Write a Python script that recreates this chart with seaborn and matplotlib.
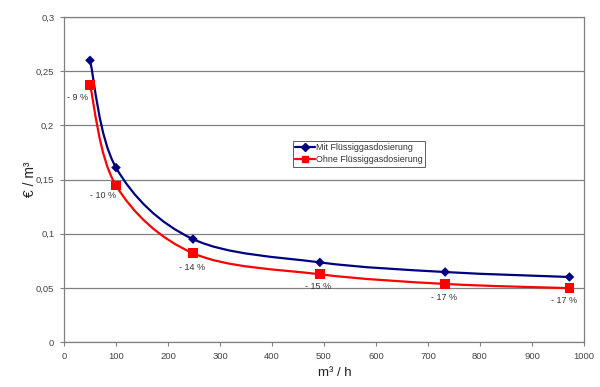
import numpy as np
import pandas as pd
import matplotlib.pyplot as plt
import seaborn as sns
from matplotlib.path import Path
from matplotlib.patches import PathPatch
from matplotlib.lines import Line2D

# data
flow = [50, 100, 248, 492, 733, 972]
cost_mit = [0.260, 0.161, 0.095, 0.0735, 0.0646, 0.060]
cost_ohne = [0.237, 0.1445, 0.082, 0.0625, 0.0536, 0.0497]
savings = ["- 9 %", "- 10 %", "- 14 %", "- 15 %", "- 17 %", "- 17 %"]
series = ["Mit Flüssiggasdosierung", "Ohne Flüssiggasdosierung"]

df = pd.DataFrame({
    "flow": flow * 2,
    "cost": cost_mit + cost_ohne,
    "series": [series[0]] * len(flow) + [series[1]] * len(flow),
})

colors = {series[0]: "#000080", series[1]: "#ff0000"}
markers = {series[0]: "D", series[1]: "s"}
msize = {series[0]: 24, series[1]: 48}

sns.set_style("white")
plt.rcParams['font.family'] = ['Liberation Sans', 'DejaVu Sans']

fig = plt.figure(figsize=(6, 3.87), dpi=100)
ax = fig.add_axes([64 / 600, 45 / 387, 520 / 600, 325 / 387])


def smooth_path(xs, ys):
    # excel-like smoothed line: catmull-rom converted to cubic bezier
    pts = np.column_stack([xs, ys]).astype(float)
    verts = [pts[0]]
    codes = [Path.MOVETO]
    n = len(pts)
    for i in range(n - 1):
        p0 = pts[i - 1] if i > 0 else pts[i]
        p1 = pts[i]
        p2 = pts[i + 1]
        p3 = pts[i + 2] if i + 2 < n else pts[i + 1]
        c1 = p1 + (p2 - p0) / 6
        c2 = p2 - (p3 - p1) / 6
        verts += [c1, c2, p2]
        codes += [Path.CURVE4] * 3
    return Path(verts, codes)


for name, ys in zip(series, [cost_mit, cost_ohne]):
    ax.add_patch(PathPatch(smooth_path(flow, ys), facecolor="none",
                           edgecolor=colors[name], lw=1.6, zorder=3))
    sub = df[df["series"] == name]
    sns.scatterplot(data=sub, x="flow", y="cost", color=colors[name],
                    marker=markers[name], s=msize[name], edgecolor="none",
                    ax=ax, zorder=4, legend=False)

# savings labels under the red points
offsets = [(-9, -9), (-9, -7), (-1, -10), (-1, -9), (-1, -10), (-4, -9)]
for x, y, txt, off in zip(flow, cost_ohne, savings, offsets):
    ax.annotate(txt, (x, y), xytext=off, textcoords="offset points",
                ha="center", va="center", fontsize=6.5, color="#333333")

ax.set_xlim(0, 1000)
ax.set_ylim(0, 0.3)
ax.set_xticks(np.arange(0, 1001, 100))
ax.set_yticks(np.arange(0, 0.301, 0.05))
ax.set_yticklabels(["0", "0,05", "0,1", "0,15", "0,2", "0,25", "0,3"])
ax.yaxis.grid(True, color="#808080", lw=0.9)
ax.set_axisbelow(True)
ax.tick_params(axis="both", labelsize=6.8, labelcolor="#444444", length=3,
               width=0.8, color="#808080", direction="out", pad=4)
ax.tick_params(axis="both", bottom=True, left=True)
for side in ["top", "right", "left", "bottom"]:
    ax.spines[side].set_color("#808080")
    ax.spines[side].set_linewidth(0.9)

ax.set_xlabel("m³ / h", fontsize=9.5, color="#222222")
ax.set_ylabel("€ / m³", fontsize=10, color="#222222")
ax.xaxis.set_label_coords(0.52, -0.076)
ax.yaxis.set_label_coords(-0.052, 0.5)

handles = [Line2D([0], [0], color=colors[n], marker=markers[n], lw=1.6,
                  markersize=4 if n == series[0] else 5) for n in series]
leg = ax.legend(handles, series, loc="upper left", bbox_to_anchor=(0.44, 0.62),
                fontsize=6.4, frameon=True, fancybox=False, borderpad=0.3,
                handlelength=2.2, handletextpad=0.1, labelspacing=0.3,
                borderaxespad=0)
leg.get_frame().set_edgecolor("#333333")
leg.get_frame().set_linewidth(0.7)
for t in leg.get_texts():
    t.set_color("#333333")

fig.savefig("out.png", dpi=100)
